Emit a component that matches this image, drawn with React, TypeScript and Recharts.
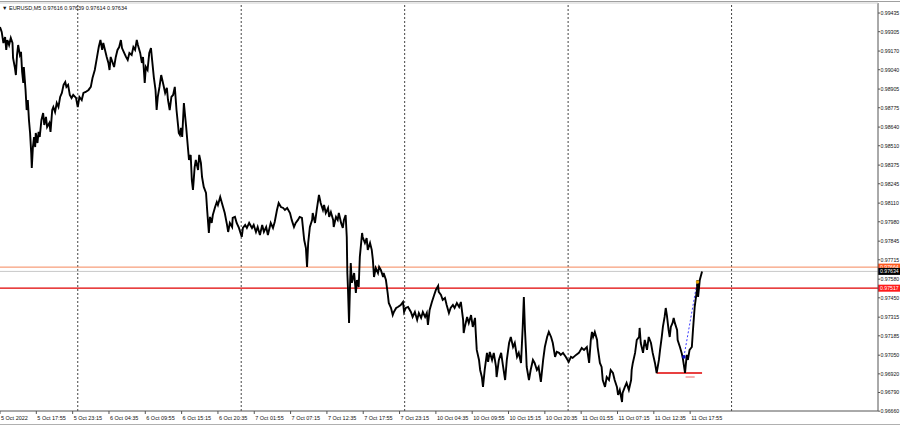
import React from 'react'
import { LineChart, Line, XAxis, YAxis, ReferenceLine, ReferenceDot } from 'recharts'

// EURUSD M5 – [bar index (5 min bars from chart start), price], one list per trading day
const oct5: [number, number][] = [
  [0, 0.99338], [3, 0.99303], [6, 0.99226], [9, 0.99268], [11, 0.99178], [13, 0.99247], [16, 0.99212], [19, 0.99261],
  [22, 0.99226], [23, 0.99122], [26, 0.99059], [28, 0.99003], [30, 0.99143], [32, 0.99212], [35, 0.99143], [37, 0.99164],
  [39, 0.99024], [41, 0.98948], [42, 0.99059], [45, 0.98899], [47, 0.98759], [49, 0.98829], [51, 0.9869], [53, 0.98599],
  [55, 0.9846], [56, 0.98355], [58, 0.98501], [60, 0.98571], [62, 0.98501], [63, 0.98599], [66, 0.98529], [68, 0.98606],
  [70, 0.98571], [73, 0.9869], [76, 0.98738], [78, 0.98655], [81, 0.98711], [83, 0.98641], [87, 0.98669], [89, 0.98606],
  [92, 0.98759], [94, 0.9878], [97, 0.98745], [100, 0.98808], [103, 0.9878], [106, 0.9885], [109, 0.98878], [112, 0.98934],
  [115, 0.98954], [117, 0.9892], [120, 0.98934], [123, 0.98864], [126, 0.98843], [129, 0.98864], [134, 0.98843],
]

const oct6: [number, number][] = [
  [137, 0.9878], [140, 0.9885], [144, 0.98829], [147, 0.98878], [151, 0.98885], [156, 0.98899], [160, 0.9892], [163, 0.98982],
  [167, 0.99038], [171, 0.99129], [174, 0.99198], [177, 0.99247], [180, 0.99178], [182, 0.99226], [185, 0.99178], [188, 0.99129],
  [191, 0.99087], [193, 0.99038], [195, 0.99129], [198, 0.99094], [201, 0.99059], [204, 0.99129], [207, 0.99178], [210, 0.99198],
  [213, 0.99247], [215, 0.99191], [218, 0.99164], [222, 0.99129], [225, 0.99108], [228, 0.99157], [232, 0.99143], [235, 0.99198],
  [238, 0.99178], [241, 0.99247], [243, 0.99212], [247, 0.99157], [250, 0.99087], [252, 0.99129], [255, 0.98948], [257, 0.99059],
  [260, 0.99038], [263, 0.99157], [266, 0.99191], [268, 0.99108], [271, 0.98989], [274, 0.98899], [276, 0.98759], [278, 0.9885],
  [281, 0.9892], [284, 0.99003], [288, 0.98934], [291, 0.98878], [294, 0.98913], [296, 0.98829], [299, 0.98759], [302, 0.9885],
  [305, 0.98864], [308, 0.9892], [311, 0.98759], [314, 0.98641], [315, 0.98599], [317, 0.98585], [319, 0.98634], [321, 0.98571],
  [324, 0.98808], [328, 0.98641], [331, 0.98501], [333, 0.98411], [336, 0.98446], [338, 0.98271], [340, 0.98202], [343, 0.98362],
  [345, 0.98411], [349, 0.98341], [351, 0.98446], [354, 0.9839], [356, 0.98292], [359, 0.98223], [363, 0.98181], [365, 0.98062],
  [368, 0.97902], [370, 0.98014], [373, 0.97972], [375, 0.98027], [379, 0.98083], [382, 0.98118], [384, 0.98097], [388, 0.98153],
  [391, 0.98111], [393, 0.98083], [396, 0.98041], [400, 0.97958], [402, 0.97909], [405, 0.97972], [409, 0.97944], [410, 0.98007],
  [414, 0.98014], [417, 0.97972], [421, 0.97937],
]

const oct7: [number, number][] = [
  [426, 0.97874], [428, 0.97937], [432, 0.97958], [435, 0.97937], [439, 0.97972], [444, 0.97937], [447, 0.97958], [451, 0.97909],
  [454, 0.97944], [458, 0.97888], [462, 0.97958], [465, 0.97909], [469, 0.97944], [472, 0.97888], [477, 0.97972], [481, 0.97937],
  [484, 0.97979], [488, 0.98062], [491, 0.98111], [495, 0.98083], [499, 0.98076], [502, 0.98062], [506, 0.98076], [511, 0.98041],
  [514, 0.97993], [518, 0.97944], [521, 0.97972], [525, 0.97993], [528, 0.98014], [532, 0.98007], [536, 0.97853], [539, 0.97797],
  [541, 0.97665], [543, 0.97832], [546, 0.97944], [550, 0.97993], [551, 0.98041], [555, 0.97972], [558, 0.98062], [562, 0.98167],
  [565, 0.98111], [569, 0.98062], [571, 0.98097], [574, 0.98041], [578, 0.98076], [580, 0.98014], [583, 0.98048], [587, 0.97993],
  [588, 0.97944], [592, 0.98014], [595, 0.97993], [597, 0.98041], [601, 0.97972], [604, 0.97937], [606, 0.97993], [609, 0.98027],
  [611, 0.97874], [612, 0.97623], [613, 0.97526], [615, 0.97275], [617, 0.97574], [618, 0.97693], [620, 0.97554], [624, 0.97623],
  [627, 0.97484], [629, 0.97574], [632, 0.97526], [634, 0.97735], [638, 0.97902], [639, 0.97874], [643, 0.97832], [646, 0.97867],
  [648, 0.97784], [652, 0.97832], [655, 0.97784], [657, 0.97714], [659, 0.97595], [662, 0.97658], [666, 0.97623], [668, 0.97665],
  [671, 0.97644], [675, 0.97595], [676, 0.97623], [680, 0.97574], [683, 0.97484], [685, 0.97414], [689, 0.97379], [692, 0.9733],
  [694, 0.97351], [698, 0.97379], [701, 0.97386], [706, 0.974], [710, 0.97421], [712, 0.97351],
]

const oct10: [number, number][] = [
  [715, 0.97379], [719, 0.97386], [724, 0.97351], [727, 0.97317], [731, 0.97351], [735, 0.97296], [738, 0.97344], [742, 0.9731],
  [745, 0.97351], [749, 0.97317], [752, 0.97344], [754, 0.97261], [757, 0.97365], [761, 0.97421], [765, 0.9747], [768, 0.97505],
  [772, 0.97533], [773, 0.97491], [777, 0.9747], [780, 0.97435], [784, 0.97449], [787, 0.974], [791, 0.97344], [794, 0.97379],
  [798, 0.974], [801, 0.97379], [805, 0.97414], [809, 0.97386], [812, 0.97421], [816, 0.97296], [817, 0.97205], [819, 0.97247],
  [823, 0.97317], [826, 0.97275], [830, 0.9733], [833, 0.97247], [837, 0.9731], [838, 0.97226], [840, 0.97087], [844, 0.97017],
  [846, 0.96947], [849, 0.96898], [851, 0.96829], [854, 0.96947], [858, 0.97066], [860, 0.97003], [863, 0.97073], [867, 0.97017],
  [870, 0.97066], [874, 0.96968], [875, 0.96898], [879, 0.97017], [883, 0.97066], [886, 0.96982], [890, 0.96877], [893, 0.97017],
  [897, 0.97135], [900, 0.97177], [904, 0.97107], [907, 0.97135], [911, 0.97038], [914, 0.97066], [918, 0.96996], [921, 0.97247],
  [923, 0.97456], [925, 0.97226], [927, 0.97066], [928, 0.96968], [932, 0.96877], [935, 0.96947], [939, 0.97017], [942, 0.96996],
  [946, 0.96947], [949, 0.96968], [953, 0.96864], [957, 0.97017], [960, 0.97107], [964, 0.97177], [967, 0.97212], [971, 0.97177],
  [974, 0.97135], [978, 0.97038], [981, 0.97073], [985, 0.97066], [988, 0.97052], [992, 0.97066], [997, 0.97038],
]

const oct11: [number, number][] = [
  [1002, 0.97003], [1006, 0.97038], [1009, 0.97031], [1015, 0.97052], [1020, 0.97066], [1025, 0.971], [1029, 0.97087], [1034, 0.97107],
  [1038, 0.96996], [1041, 0.97156], [1043, 0.97212], [1045, 0.97177], [1048, 0.97212], [1052, 0.97156], [1053, 0.97107], [1057, 0.96996],
  [1060, 0.96968], [1062, 0.96877], [1066, 0.96829], [1069, 0.96898], [1073, 0.96877], [1076, 0.96947], [1080, 0.96926], [1083, 0.96877],
  [1087, 0.96829], [1089, 0.96773], [1092, 0.96808], [1096, 0.96724], [1097, 0.96787], [1101, 0.96829], [1104, 0.96857], [1108, 0.96808],
  [1112, 0.96877], [1113, 0.96947], [1115, 0.96996], [1119, 0.97066], [1122, 0.97156], [1126, 0.97177], [1127, 0.9724], [1129, 0.97135],
  [1133, 0.97066], [1136, 0.97156], [1140, 0.97087], [1143, 0.97177], [1147, 0.97135], [1150, 0.97066], [1154, 0.96996], [1157, 0.96926],
  [1161, 0.97017], [1163, 0.97087], [1166, 0.97177], [1168, 0.97247], [1171, 0.97317], [1173, 0.97379], [1175, 0.9733], [1178, 0.97226],
  [1180, 0.97177], [1182, 0.97247], [1185, 0.97275], [1187, 0.9731], [1189, 0.97275], [1193, 0.97226], [1194, 0.97156], [1198, 0.97107],
  [1201, 0.97066], [1203, 0.97031], [1207, 0.96926], [1210, 0.97052], [1212, 0.97017], [1215, 0.97087], [1219, 0.97107], [1221, 0.97226],
  [1224, 0.97386], [1228, 0.97505], [1229, 0.97574], [1230, 0.97456], [1233, 0.97574], [1237, 0.97634],
]

// time axis: one label every 64 bars
const timeTicks = [0, 64, 128, 192, 256, 320, 384, 448, 512, 576, 640, 704, 768, 832, 896, 960, 1024, 1088, 1152, 1216]
const timeLabels = [
  '5 Oct 2022', '5 Oct 17:55', '5 Oct 23:15', '6 Oct 04:35', '6 Oct 09:55', '6 Oct 15:15', '6 Oct 20:35',
  '7 Oct 01:55', '7 Oct 07:15', '7 Oct 12:35', '7 Oct 17:55', '7 Oct 23:15', '10 Oct 04:35', '10 Oct 09:55',
  '10 Oct 15:15', '10 Oct 20:35', '11 Oct 01:55', '11 Oct 07:15', '11 Oct 12:35', '11 Oct 17:55',
]
const dayStarts = [137, 425, 713, 1001, 1289]

const priceTicks = [
  0.99435, 0.99305, 0.9917, 0.9904, 0.98905, 0.98775, 0.9864, 0.9851, 0.98375, 0.98245, 0.9811,
  0.9798, 0.97845, 0.97715, 0.9758, 0.9745, 0.97315, 0.97185, 0.9705, 0.9692, 0.9679, 0.9666,
]

const askLevel = 0.97664
const bidLevel = 0.97634
const resistance = 0.97517
const supportLevel = 0.96926
const supportFrom = 1157
const supportTo = 1237
const trendStart = { bar: 1205, price: 0.97038 }
const trendEnd = { bar: 1229, price: 0.97574 }

const FONT = 'Liberation Sans, Arial, sans-serif'

const series = [...oct5, ...oct6, ...oct7, ...oct10, ...oct11].map(([bar, price]) => ({ bar, price }))

function PriceTick({ x, y, payload }: any) {
  return (
    <g>
      <line x1={x} x2={x + 2} y1={y} y2={y} stroke="#555" />
      <text x={x + 2.5} y={y + 2} fontSize={5.2} fontFamily={FONT} fill="#111">
        {Number(payload.value).toFixed(5)}
      </text>
    </g>
  )
}

function TimeTick({ x, y, payload }: any) {
  const label = timeLabels[timeTicks.indexOf(payload.value)]
  return (
    <g>
      <line x1={x} x2={x} y1={y} y2={y + 3} stroke="#555" />
      <text x={x + 1} y={y + 9} fontSize={5.5} fontFamily={FONT} fill="#111">
        {label}
      </text>
    </g>
  )
}

function PriceTag({ viewBox, text, fill }: any) {
  if (!viewBox) return null
  const right = viewBox.x + viewBox.width
  return (
    <g>
      <rect x={right} y={viewBox.y - 3.5} width={22} height={7} fill={fill} />
      <text x={right + 2} y={viewBox.y + 2} fontSize={5.2} fontFamily={FONT} fill="#fff">
        {text}
      </text>
    </g>
  )
}

export default function App() {
  return (
    <div style={{ position: 'fixed', left: 0, top: 0, width: 900, height: 426, background: '#fff' }}>
      <LineChart width={900} height={426} data={series} margin={{ top: 3, right: 0, bottom: 0, left: 0 }}>
        <XAxis
          dataKey="bar"
          type="number"
          domain={[0, 1547]}
          ticks={timeTicks}
          interval={0}
          height={15}
          tickSize={0}
          tickMargin={0}
          axisLine={{ stroke: '#555' }}
          tick={<TimeTick />}
          allowDataOverflow
        />
        <YAxis
          orientation="right"
          type="number"
          domain={[0.96661, 0.99505]}
          ticks={priceTicks}
          interval={0}
          width={22}
          tickSize={0}
          tickMargin={0}
          axisLine={{ stroke: '#555' }}
          tick={<PriceTick />}
          allowDataOverflow
        />

        {dayStarts.map((b) => (
          <ReferenceLine key={b} x={b} stroke="#444" strokeDasharray="2 2" />
        ))}

        <ReferenceLine y={askLevel} stroke="#f5865a" label={<PriceTag text="0.97664" fill="#ff5a1f" />} />
        <ReferenceLine y={bidLevel} stroke="#c8c8c8" label={<PriceTag text="0.97634" fill="#000" />} />
        <ReferenceLine y={resistance} stroke="#e00000" strokeWidth={1.3} label={<PriceTag text="0.97517" fill="#ff1a1a" />} />

        <ReferenceLine
          segment={[{ x: supportFrom, y: supportLevel }, { x: supportTo, y: supportLevel }]}
          stroke="#e00000"
          strokeWidth={1.3}
        />
        <ReferenceLine
          segment={[{ x: 1208, y: 0.96898 }, { x: 1224, y: 0.96898 }]}
          stroke="#f06060"
        />
        <ReferenceLine
          segment={[{ x: trendStart.bar, y: trendStart.price }, { x: trendEnd.bar, y: trendEnd.price }]}
          stroke="#3a3aff"
          strokeDasharray="2 2"
        />

        <Line
          type="linear"
          dataKey="price"
          stroke="#000"
          strokeWidth={1.9}
          strokeLinejoin="miter"
          dot={false}
          isAnimationActive={false}
        />

        <ReferenceDot x={trendStart.bar} y={trendStart.price} r={1.8} fill="#1010c0" stroke="none" />
        <ReferenceDot x={trendEnd.bar} y={0.9756} r={1.8} fill="#e0a000" stroke="none" />
      </LineChart>

      <svg width={900} height={426} style={{ position: 'absolute', left: 0, top: 0, pointerEvents: 'none' }}>
        <line x1={0} x2={900} y1={1.5} y2={1.5} stroke="#a0a0a0" />
        <line x1={0} x2={878} y1={3} y2={3} stroke="#d0d0d0" />
        <line x1={0} x2={900} y1={424.5} y2={424.5} stroke="#b0b0b0" />
        <text x={2} y={10} fontSize={5.5} fontFamily={FONT} fill="#111">
          ▼ EURUSD,M5  0.97616 0.97639 0.97614 0.97634
        </text>
      </svg>
    </div>
  )
}
